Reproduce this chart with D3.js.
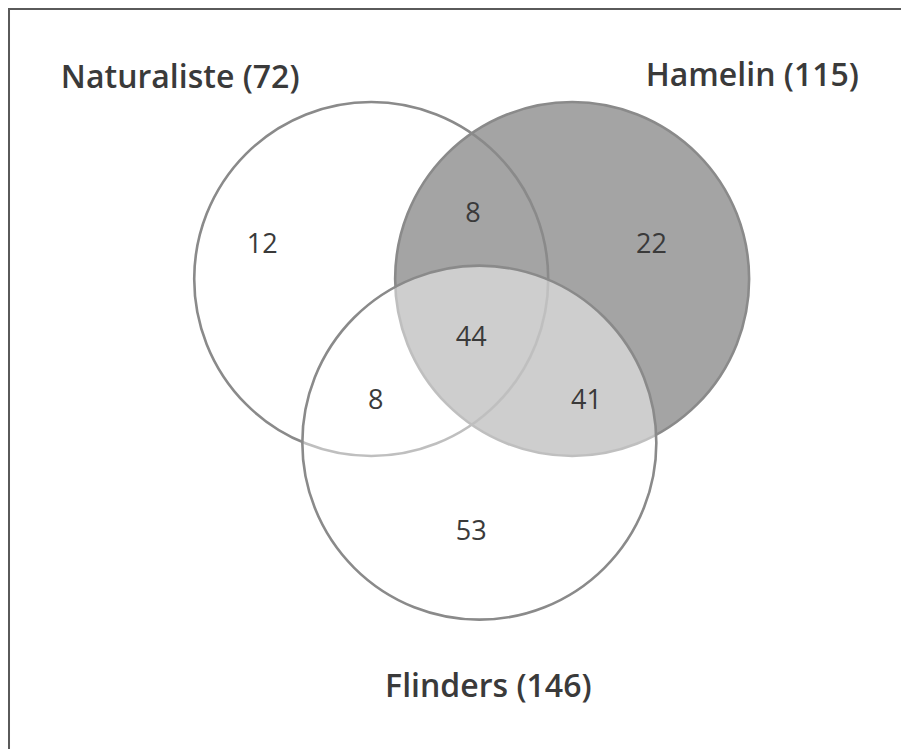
<!DOCTYPE html>
<html>
<head>
<meta charset="utf-8">
<script src="https://cdn.jsdelivr.net/npm/d3@7"></script>
<style>
  body { margin: 0; background: #fff; }
  svg { display: block; }
</style>
</head>
<body>
<svg width="901" height="749"></svg>
<script>
"use strict";

// sets and their totals
const setNames = ['Naturaliste', 'Hamelin', 'Flinders'];
const setTotals = [72, 115, 146];

// region counts, keyed by which sets they belong to
const regionKeys = ['N', 'NH', 'H', 'NHF', 'NF', 'HF', 'F'];
const regionCounts = [12, 8, 22, 44, 8, 41, 53];

const svg = d3.select('svg');
const width = +svg.attr('width');
const height = +svg.attr('height');

// layout in abstract units, mapped through linear scales
const x = d3.scaleLinear().domain([0, 100]).range([0, width]);
const y = d3.scaleLinear().domain([0, 100]).range([0, height]);
const r = 177;

const centers = {
    Naturaliste: [41.2, 37.25],
    Hamelin: [63.5, 37.25],
    Flinders: [53.2, 59.1]
};
const fills = { Naturaliste: 'none', Hamelin: '#a4a4a4', Flinders: 'rgba(255,255,255,0.46)' };

const labelPos = {
    Naturaliste: [20.0, 11.75],
    Hamelin: [83.5, 11.5],
    Flinders: [54.2, 93.1]
};

const regionPos = {
    N: [29.1, 32.4], NH: [52.5, 28.3], H: [72.3, 32.4],
    NHF: [52.3, 44.8], NF: [41.7, 53.2], HF: [65.1, 53.2], F: [52.3, 70.7]
};

// frame (top and left edges only, as in the scan)
svg.append('path')
    .attr('d', `M${x(1)},${height} V${y(1.2)} H${width}`)
    .attr('fill', 'none')
    .attr('stroke', '#5a5a5a')
    .attr('stroke-width', 2);

// hamelin first so the other outlines show on top; flinders washes over both
const order = ['Hamelin', 'Naturaliste', 'Flinders'];

svg.append('g')
    .selectAll('circle')
    .data(order)
    .join('circle')
    .attr('cx', d => x(centers[d][0]))
    .attr('cy', d => y(centers[d][1]))
    .attr('r', r)
    .attr('fill', d => fills[d])
    .attr('stroke', '#8a8a8a')
    .attr('stroke-width', 2.6);

svg.append('g')
    .selectAll('text')
    .data(setNames)
    .join('text')
    .attr('x', d => x(labelPos[d][0]))
    .attr('y', d => y(labelPos[d][1]))
    .attr('text-anchor', 'middle')
    .attr('font-family', 'Open Sans, sans-serif')
    .attr('font-weight', 600)
    .attr('font-size', 32)
    .attr('fill', '#3a3a3a')
    .text((d, i) => `${d} (${setTotals[i]})`);

svg.append('g')
    .selectAll('text')
    .data(regionKeys)
    .join('text')
    .attr('x', d => x(regionPos[d][0]))
    .attr('y', d => y(regionPos[d][1]))
    .attr('text-anchor', 'middle')
    .attr('dominant-baseline', 'central')
    .attr('font-family', 'Open Sans, sans-serif')
    .attr('font-size', 27)
    .attr('fill', '#3a3a3a')
    .text((d, i) => regionCounts[i]);
</script>
</body>
</html>
